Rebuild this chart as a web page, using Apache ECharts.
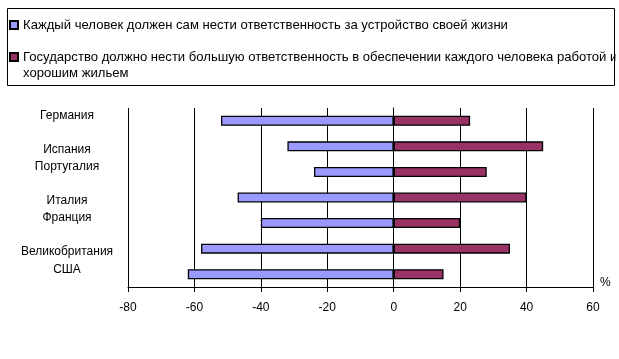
<!DOCTYPE html>
<html>
<head>
<meta charset="utf-8">
<script src="https://cdn.jsdelivr.net/npm/echarts@6/dist/echarts.min.js"></script>
<style>
html,body{margin:0;padding:0;background:#fff;}
#c{width:619px;height:359px;}
</style>
</head>
<body>
<div id="c"></div>
<script>
const categories = ['Германия', 'Испания', 'Португалия', 'Италия', 'Франция', 'Великобритания', 'США'];
const seriesNames = [
  'Каждый человек должен сам нести ответственность за устройство своей жизни',
  'Государство должно нести большую ответственность в обеспечении каждого человека работой и хорошим жильем'
];
const personalValues = [-52, -32, -24, -47, -40, -58, -62];
const stateValues = [23, 45, 28, 40, 20, 35, 15];
const xTicks = { min: -80, max: 60, interval: 20 };
const unitLabel = '%';

const chart = echarts.init(document.getElementById('c'), null, { renderer: 'canvas' });
const FONT = 'Liberation Sans, Arial, sans-serif';
chart.setOption({
  animation: false,
  textStyle: { fontFamily: FONT },
  graphic: [
    { type: 'rect', z: 100, shape: { x: 615.5, y: 0, width: 10, height: 95 }, style: { fill: '#fff' } },
    { type: 'rect', z: 101, shape: { x: 7.5, y: 8.5, width: 607, height: 77 }, style: { fill: 'none', stroke: '#000', lineWidth: 1 } }
  ],
  legend: {
    orient: 'vertical',
    left: 9,
    top: 17,
    itemWidth: 8,
    itemHeight: 8,
    itemGap: 0,
    icon: 'rect',
    padding: 0,
    formatter: function (name) {
      return name === seriesNames[1] ? '\n' + name.replace(' хорошим', '\nхорошим') : name;
    },
    textStyle: { fontFamily: FONT, fontSize: 13.1, color: '#000', lineHeight: 16 }
  },
  grid: { left: 128, right: 26, top: 108, bottom: 72, containLabel: false },
  xAxis: {
    type: 'value',
    min: xTicks.min, max: xTicks.max, interval: xTicks.interval,
    name: unitLabel,
    nameLocation: 'end',
    nameGap: 7,
    nameTextStyle: { fontFamily: FONT, fontSize: 12, color: '#000', verticalAlign: 'bottom', lineHeight: 8 },
    axisLine: { show: true, lineStyle: { color: '#000', width: 1 } },
    axisTick: { show: true, length: 5, lineStyle: { color: '#000', width: 1 } },
    axisLabel: { fontFamily: FONT, fontSize: 12, color: '#000', margin: 15 },
    splitLine: { show: true, lineStyle: { color: '#000', width: 1 } }
  },
  yAxis: {
    type: 'category',
    inverse: true,
    data: categories,
    axisLine: { show: true, lineStyle: { color: '#000', width: 1 } },
    axisTick: { show: false },
    splitLine: { show: false },
    axisLabel: {
      align: 'center',
      margin: 61,
      fontFamily: FONT, fontSize: 12, color: '#000',
      formatter: function (v, i) { return (i % 2 === 0 ? '{u|' : '{n|') + v + '}'; },
      rich: {
        u: { fontFamily: FONT, fontSize: 12, color: '#000', padding: [0, 0, 10, 0] },
        n: { fontFamily: FONT, fontSize: 12, color: '#000', padding: [6, 0, 0, 0] }
      }
    }
  },
  series: [
    {
      name: seriesNames[0], type: 'bar', stack: 'total', barWidth: 10,
      data: personalValues,
      itemStyle: { color: '#9999FF', borderColor: '#000', borderWidth: 1.3 }
    },
    {
      name: seriesNames[1], type: 'bar', stack: 'total', barWidth: 10,
      data: stateValues,
      itemStyle: { color: '#993366', borderColor: '#000', borderWidth: 1.3 }
    }
  ]
});
</script>
</body>
</html>
